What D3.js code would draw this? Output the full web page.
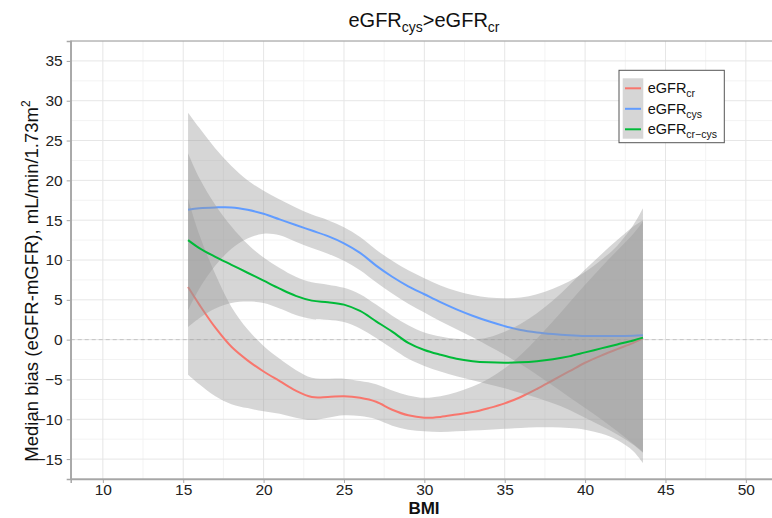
<!DOCTYPE html>
<html>
<head>
<meta charset="utf-8">
<script src="https://cdn.jsdelivr.net/npm/d3@7"></script>
<style>
  html, body { margin: 0; padding: 0; background: #fff; }
  svg { display: block; font-family: "Liberation Sans", Arial, sans-serif; }
</style>
</head>
<body>
<svg id="chart" width="772" height="518"></svg>
<script>
// BMI grid at which the smoothed medians and their confidence bands are given
const bmi = [15.3,16,17,18,19,20,21,22,23,24,25,26,27,28,29,30,31,32,33,34,35,36,37,38,39,40,41,42,43,43.6];

// eGFRcr
const crMid = [6.6,4.4,1.5,-0.9,-2.6,-4.0,-5.2,-6.4,-7.2,-7.2,-7.1,-7.3,-7.8,-8.8,-9.5,-9.8,-9.7,-9.4,-9.1,-8.6,-8.0,-7.2,-6.2,-5.1,-4.0,-2.9,-2.0,-1.2,-0.4,0.15];
const crHi  = [17.7,13.2,8.2,4.1,1.3,-0.8,-2.4,-3.8,-4.8,-4.9,-4.9,-5.2,-5.6,-6.4,-7.0,-7.3,-7.1,-6.6,-5.9,-4.9,-3.6,-1.9,0.1,2.3,4.6,6.9,9.1,11.2,13.3,14.85];
const crLo  = [-4.4,-5.6,-7.1,-8.1,-8.6,-9.0,-9.3,-9.8,-10.1,-9.8,-9.5,-9.6,-10.0,-10.8,-11.3,-11.5,-11.6,-11.5,-11.4,-11.3,-11.2,-11.1,-11.0,-11.0,-11.1,-11.3,-11.8,-12.6,-14.0,-15.5];

// eGFRcys
const cysMid = [16.3,16.5,16.6,16.6,16.3,15.8,15.1,14.4,13.7,13.0,12.1,10.9,9.3,7.9,6.7,5.7,4.7,3.8,3.0,2.3,1.7,1.2,0.9,0.7,0.55,0.45,0.45,0.45,0.5,0.55];
const cysHi  = [28.5,26.6,24.0,21.8,20.0,18.7,17.6,16.6,15.7,15.0,14.1,12.9,11.3,9.9,8.7,7.7,6.8,6.1,5.6,5.3,5.2,5.3,5.7,6.4,7.3,8.5,10.0,11.8,14.4,16.5];
const cysLo  = [3.7,6.4,9.3,11.4,12.7,13.3,13.1,12.3,11.5,10.8,9.9,8.7,7.2,5.8,4.5,3.4,2.3,1.3,0.3,-0.8,-1.9,-3.1,-4.4,-5.8,-7.2,-8.6,-10.0,-11.5,-13.1,-14.1];

// eGFRcr-cys
const crcysMid = [12.5,11.5,10.4,9.4,8.4,7.4,6.4,5.5,4.9,4.7,4.4,3.6,2.3,1.0,-0.4,-1.3,-1.9,-2.4,-2.7,-2.85,-2.9,-2.85,-2.7,-2.45,-2.1,-1.6,-1.1,-0.6,-0.1,0.25];
const crcysHi  = [23.4,20.3,16.9,14.2,12.0,10.3,9.0,7.9,7.2,6.9,6.5,5.7,4.4,3.0,1.8,0.9,0.4,0.1,0.0,0.3,1.0,2.0,3.3,4.9,6.8,8.8,10.7,12.5,14.2,15.0];
const crcysLo  = [1.6,2.7,3.9,4.6,4.8,4.6,3.9,3.1,2.6,2.5,2.2,1.4,0.2,-1.1,-2.4,-3.3,-4.0,-4.6,-5.1,-5.6,-6.1,-6.7,-7.3,-8.0,-8.8,-9.8,-10.8,-11.9,-13.2,-14.2];

const xTicks = [10,15,20,25,30,35,40,45,50];
const yTicks = [-15,-10,-5,0,5,10,15,20,25,30,35];

const series = [
  { sub: "cr",     color: "#F8766D", mid: crMid,    lo: crLo,    hi: crHi },
  { sub: "cys",    color: "#619CFF", mid: cysMid,   lo: cysLo,   hi: cysHi },
  { sub: "cr\u2212cys", color: "#00BA38", mid: crcysMid, lo: crcysLo, hi: crcysHi }
];

const svg = d3.select("#chart");
const P = { left: 70.7, right: 778, top: 41, bottom: 479 };

const x = d3.scaleLinear().domain([8, 52]).range([P.left, P.right]);
const y = d3.scaleLinear().domain([-17.5, 37.5]).range([P.bottom, P.top]);

svg.append("defs").append("clipPath").attr("id", "panel")
  .append("rect").attr("x", P.left).attr("y", P.top)
  .attr("width", P.right - P.left).attr("height", P.bottom - P.top);

const panel = svg.append("g").attr("clip-path", "url(#panel)");

// grid: minor then major
const xMinor = xTicks.map(t => t + 2.5).concat([7.5]);
const yMinor = yTicks.map(t => t + 2.5).concat([-17.5]);
panel.selectAll(".gxm").data(xMinor).join("line")
  .attr("x1", d => x(d)).attr("x2", d => x(d)).attr("y1", P.top).attr("y2", P.bottom)
  .attr("stroke", "#f3f3f3").attr("stroke-width", 1);
panel.selectAll(".gym").data(yMinor).join("line")
  .attr("y1", d => y(d)).attr("y2", d => y(d)).attr("x1", P.left).attr("x2", P.right)
  .attr("stroke", "#f3f3f3").attr("stroke-width", 1);
panel.selectAll(".gx").data(xTicks).join("line")
  .attr("x1", d => x(d)).attr("x2", d => x(d)).attr("y1", P.top).attr("y2", P.bottom)
  .attr("stroke", "#e6e6e6").attr("stroke-width", 1);
panel.selectAll(".gy").data(yTicks).join("line")
  .attr("y1", d => y(d)).attr("y2", d => y(d)).attr("x1", P.left).attr("x2", P.right)
  .attr("stroke", "#e6e6e6").attr("stroke-width", 1);

// zero reference
panel.append("line")
  .attr("x1", P.left).attr("x2", P.right).attr("y1", y(0)).attr("y2", y(0))
  .attr("stroke", "#c4c4c4").attr("stroke-width", 1).attr("stroke-dasharray", "4,3");

const curve = d3.curveCatmullRom.alpha(0.5);
const area = d3.area().curve(curve)
  .x(d => x(d.b)).y0(d => y(d.lo)).y1(d => y(d.hi));
const line = d3.line().curve(curve).x(d => x(d.b)).y(d => y(d.m));

series.forEach(s => {
  const rows = bmi.map((b, i) => ({ b, m: s.mid[i], lo: s.lo[i], hi: s.hi[i] }));
  panel.append("path").datum(rows).attr("d", area)
    .attr("fill", "#999999").attr("fill-opacity", 0.4);
  panel.append("path").datum(rows).attr("d", line)
    .attr("fill", "none").attr("stroke", s.color).attr("stroke-width", 2);
});

// panel border
svg.append("rect").attr("x", P.left).attr("y", P.top)
  .attr("width", P.right - P.left).attr("height", P.bottom - P.top)
  .attr("fill", "none").attr("stroke", "#a6a6a6").attr("stroke-width", 1.2);

// axes
const yAxis = svg.append("g").attr("transform", `translate(${P.left},0)`)
  .call(d3.axisLeft(y).tickValues(yTicks).tickSize(4).tickPadding(4));
const xAxis = svg.append("g").attr("transform", `translate(0,${P.bottom})`)
  .call(d3.axisBottom(x).tickValues(xTicks).tickSize(4).tickPadding(1));
[yAxis, xAxis].forEach(g => {
  g.select(".domain").attr("stroke", "#a6a6a6").attr("stroke-width", 1.5);
  g.selectAll(".tick line").attr("stroke", "#a6a6a6");
  g.selectAll(".tick text").attr("fill", "#222").style("font-size", "15.5px")
    .style("font-family", "'Liberation Sans', Arial, sans-serif");
});

// title
const title = svg.append("text").attr("x", 424).attr("y", 27)
  .attr("text-anchor", "middle").attr("fill", "#111").style("font-size", "20px");
title.append("tspan").text("eGFR");
title.append("tspan").text("cys").attr("dy", 5).style("font-size", "14px");
title.append("tspan").text(">eGFR").attr("dy", -5);
title.append("tspan").text("cr").attr("dy", 5).style("font-size", "14px");

// axis titles
svg.append("text").attr("x", 424).attr("y", 514)
  .attr("text-anchor", "middle").attr("fill", "#111")
  .style("font-size", "17px").style("font-weight", "bold").text("BMI");

const yt = svg.append("text")
  .attr("transform", "translate(38,281) rotate(-90)")
  .attr("text-anchor", "middle").attr("fill", "#111").style("font-size", "18.5px");
yt.append("tspan").text("Median bias (eGFR-mGFR), mL/min/1.73m");
yt.append("tspan").text("2").attr("dy", -8).style("font-size", "12px");

// legend
const L = { x: 619, y: 70.3, w: 105.3, h: 72.4 };
const lg = svg.append("g");
lg.append("rect").attr("x", L.x).attr("y", L.y).attr("width", L.w).attr("height", L.h)
  .attr("fill", "#fff").attr("stroke", "#555").attr("stroke-width", 1);
lg.append("rect").attr("x", 622.7).attr("y", 78.3).attr("width", 20.6).attr("height", 60.4)
  .attr("fill", "#d6d6d6");
series.forEach((s, i) => {
  const cy = 88.3 + i * 20.5;
  lg.append("line").attr("x1", 625).attr("x2", 641).attr("y1", cy).attr("y2", cy)
    .attr("stroke", s.color).attr("stroke-width", 2);
  const t = lg.append("text").attr("x", 647.7).attr("y", cy + 5)
    .attr("fill", "#111").style("font-size", "14.5px");
  t.append("tspan").text("eGFR");
  t.append("tspan").text(s.sub).attr("dy", 4).style("font-size", "10.5px");
});
</script>
</body>
</html>
